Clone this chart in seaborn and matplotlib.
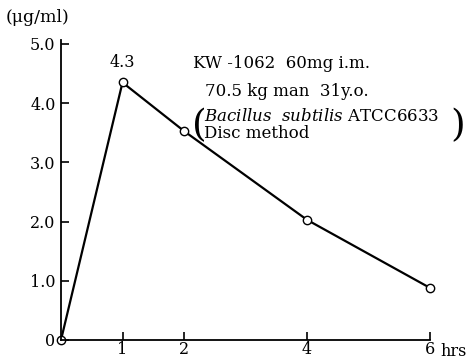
import matplotlib
matplotlib.use("Agg")
import matplotlib.pyplot as plt
import seaborn as sns
import pandas as pd

hours = [0, 1, 2, 4, 6]
conc = [0.0, 4.35, 3.53, 2.03, 0.88]
yticks = [0, 1, 2, 3, 4, 5]
ytick_labels = ["0", "1.0", "2.0", "3.0", "4.0", "5.0"]
xticks = [1, 2, 4, 6]
xtick_labels = ["1", "2", "4", "6"]

sns.set_style("ticks")
plt.rcParams["font.family"] = ["DejaVu Serif", "Liberation Serif"]
plt.rcParams["mathtext.fontset"] = "custom"
plt.rcParams["mathtext.rm"] = "DejaVu Serif"
plt.rcParams["mathtext.it"] = "DejaVu Serif:italic"
for k in ["text.color", "xtick.color", "ytick.color", "xtick.labelcolor",
          "ytick.labelcolor", "axes.edgecolor", "axes.labelcolor"]:
    plt.rcParams[k] = "black"

df = pd.DataFrame({"hours": hours, "conc": conc})

fig = plt.figure(figsize=(4.7, 3.6), dpi=100)
ax = fig.add_axes([61/470, 20/360, (430-61)/470, (340-44)/360])

sns.lineplot(data=df, x="hours", y="conc", ax=ax, color="black", linewidth=1.6,
             marker="o", markersize=6, markerfacecolor="white",
             markeredgecolor="black", markeredgewidth=1.0, clip_on=False)
for l in ax.lines:
    l.set_clip_on(False)

ax.set_xlim(0, 6)
ax.set_ylim(0, 5)
ax.set_xticks(xticks)
ax.set_xticklabels(xtick_labels, fontsize=11.5)
ax.set_yticks(yticks)
ax.set_yticklabels(ytick_labels, fontsize=11.5)
ax.tick_params(axis="both", direction="in", length=6, width=1.2, color="black",
               labelcolor="black")
ax.tick_params(axis="x", pad=1)
ax.tick_params(axis="y", pad=4)
ax.set_xlabel("")
ax.set_ylabel("")
sns.despine(ax=ax)
ax.spines["left"].set_linewidth(1.3)
ax.spines["bottom"].set_linewidth(1.3)
ax.spines["left"].set_bounds(0, 5.07)

fig.text(6/470, 1 - 18/360, "(μg/ml)", fontsize=12.5, va="center", ha="left")
fig.text(440/470, 1 - 351/360, "hrs", fontsize=11.5, va="center", ha="left")
ax.annotate("4.3", xy=(1, 4.35), xytext=(0, 8), textcoords="offset points",
            ha="center", va="bottom", fontsize=11.5)

fig.text(193/470, 1 - 63/360, "KW -1062  60mg i.m.", fontsize=12, va="center", ha="left")
fig.text(205/470, 1 - 91/360, "70.5 kg man  31y.o.", fontsize=12, va="center", ha="left")
fig.text(204/470, 1 - 117/360, r"$\it{Bacillus\ \ subtilis}$ ATCC6633", fontsize=12, va="center", ha="left")
fig.text(204/470, 1 - 133/360, "Disc method", fontsize=12, va="center", ha="left")
fig.text(192/470, 1 - 126/360, "(", fontsize=27, va="center", ha="left")
fig.text(450/470, 1 - 126/360, ")", fontsize=27, va="center", ha="left")

fig.savefig("out.png", dpi=100)
